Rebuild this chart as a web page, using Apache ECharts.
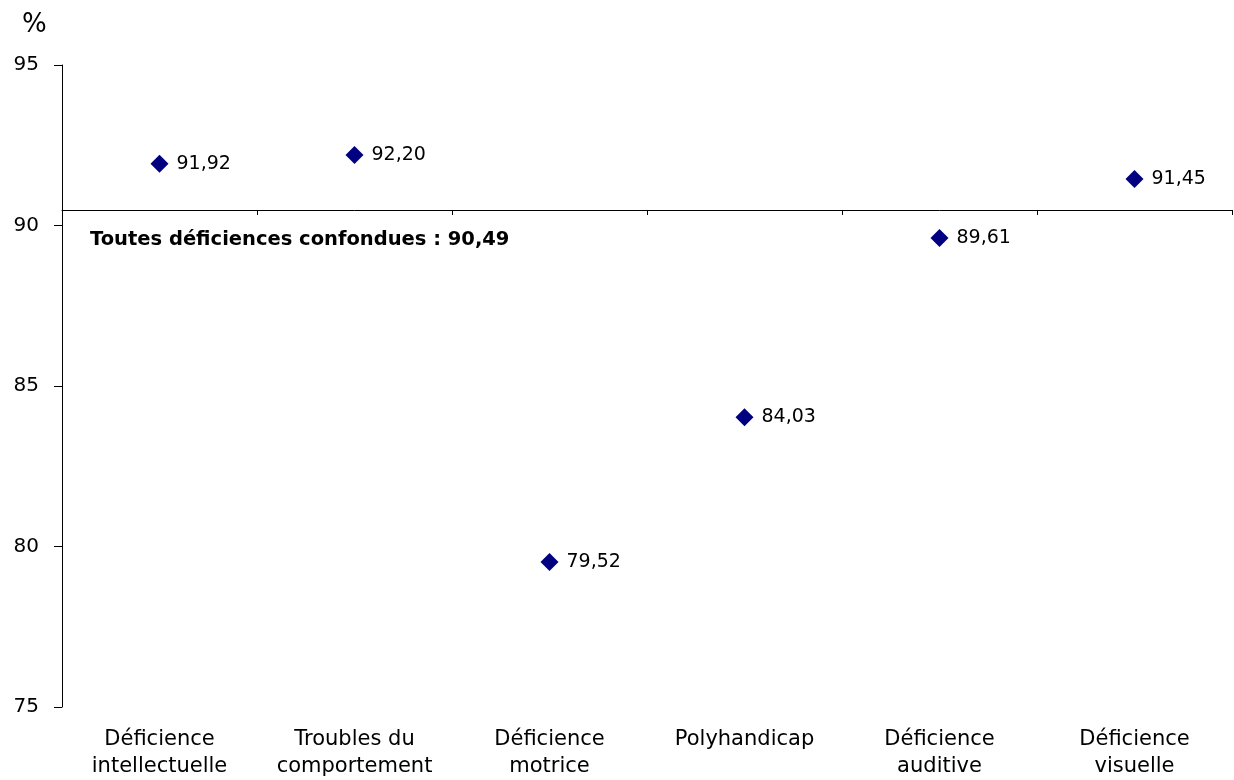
<!DOCTYPE html>
<html>
<head>
<meta charset="utf-8">
<script src="https://cdn.jsdelivr.net/npm/echarts@6/dist/echarts.min.js"></script>
<style>html,body{margin:0;padding:0;background:#fff}#c{width:1234px;height:780px}</style>
</head>
<body>
<div id="c"></div>
<script>
var categories = ['Déficience\nintellectuelle', 'Troubles du\ncomportement', 'Déficience\nmotrice', 'Polyhandicap', 'Déficience\nauditive', 'Déficience\nvisuelle'];
var values = [91.92, 92.20, 79.52, 84.03, 89.61, 91.45];
var overall = 90.49;
var overallLabel = 'Toutes déficiences confondues : 90,49';
var yTicks = [75, 80, 85, 90, 95];

var FONT = 'DejaVu Sans, Verdana, sans-serif';
var chart = echarts.init(document.getElementById('c'));
var gridTop = 65, gridHeight = 643;
var yMin = 75, yMax = 95;
var crossOffset = -((yMax - overall) / (yMax - yMin) * gridHeight);

chart.setOption({
  animation: false,
  backgroundColor: '#fff',
  textStyle: { fontFamily: FONT },
  grid: { left: 62, right: 2, top: gridTop, height: gridHeight },
  graphic: [
    { type: 'text', left: 22, top: 12, style: { text: '%', fontSize: 26, fill: '#000', fontFamily: FONT } },
    { type: 'text', left: 90, top: 230, style: { text: overallLabel, fontSize: 19.5, fontWeight: 'bold', fill: '#000', fontFamily: FONT } }
  ],
  xAxis: [
    {
      type: 'category', data: categories, position: 'bottom',
      boundaryGap: true,
      axisLine: { show: false }, axisTick: { show: false },
      axisLabel: { color: '#000', fontSize: 21, margin: 19, lineHeight: 27, interval: 0, fontFamily: FONT }
    },
    {
      type: 'category', data: categories, position: 'top', offset: crossOffset,
      boundaryGap: true,
      axisLine: { show: true, lineStyle: { color: '#000', width: 1 } },
      axisTick: { show: true, inside: true, length: 5, interval: 0, lineStyle: { color: '#000' } },
      axisLabel: { show: false }
    }
  ],
  yAxis: {
    type: 'value', min: yMin, max: yMax, interval: 5,
    axisLine: { show: true, lineStyle: { color: '#000', width: 1 } },
    axisTick: { show: true, length: 8, lineStyle: { color: '#000' } },
    axisLabel: { color: '#000', fontSize: 20, margin: 23, fontFamily: FONT,
      formatter: function (v) { return yTicks.indexOf(v) >= 0 ? String(v) : ''; } },
    splitLine: { show: false }
  },
  series: [{
    type: 'scatter', xAxisIndex: 0,
    data: values,
    symbol: 'diamond', symbolSize: [18, 18],
    itemStyle: { color: '#000080', opacity: 1 },
    label: {
      show: true, position: 'right', distance: 8, color: '#000', fontSize: 19, fontFamily: FONT,
      formatter: function (p) { return p.value.toFixed(2).replace('.', ','); }
    },
    emphasis: { disabled: true }
  }]
});
</script>
</body>
</html>
